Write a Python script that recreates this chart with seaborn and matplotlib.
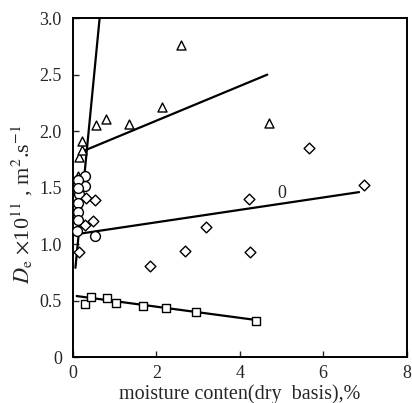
import numpy as np
import pandas as pd
import matplotlib
matplotlib.use("Agg")
import matplotlib.pyplot as plt
import seaborn as sns

# Data
tri_x = [0.12, 0.14, 0.22, 0.22, 0.55, 0.80, 1.34, 2.13, 2.58, 4.70]
tri_y = [1.60, 1.77, 1.83, 1.91, 2.05, 2.11, 2.06, 2.21, 2.76, 2.07]

circ_x = [0.30, 0.28, 0.13, 0.14, 0.12, 0.11, 0.11, 0.09, 0.52, 0.12]
circ_y = [1.60, 1.51, 1.57, 1.44, 1.36, 1.28, 1.21, 1.12, 1.07, 1.50]

dia_x = [0.15, 0.29, 0.31, 0.48, 0.52, 1.85, 2.68, 3.19, 4.22, 4.24, 5.67, 6.97]
dia_y = [0.93, 1.17, 1.41, 1.20, 1.39, 0.81, 0.94, 1.15, 1.40, 0.93, 1.85, 1.52]

sq_x = [0.30, 0.43, 0.82, 1.04, 1.69, 2.23, 2.96, 4.38]
sq_y = [0.47, 0.53, 0.52, 0.48, 0.45, 0.43, 0.40, 0.32]

# fitted lines (end points)
steep_x, steep_y = [0.06, 0.64], [0.79, 3.0]
tri_fit_x, tri_fit_y = [0.29, 4.66], [1.83, 2.50]
dia_fit_x, dia_fit_y = [0.13, 6.86], [1.09, 1.46]
sq_fit_x, sq_fit_y = [0.09, 4.35], [0.54, 0.33]

sns.set_style("ticks")
plt.rcParams['font.family'] = ['Liberation Serif', 'DejaVu Serif']
plt.rcParams['mathtext.fontset'] = 'stix'

fig = plt.figure(figsize=(4.12, 4.03), dpi=100)
ax = fig.add_axes([0.177, 0.114, 0.81, 0.841])

for lx, ly in [(steep_x, steep_y), (tri_fit_x, tri_fit_y),
               (dia_fit_x, dia_fit_y), (sq_fit_x, sq_fit_y)]:
    sns.lineplot(x=lx, y=ly, ax=ax, color='black', lw=1.6, sort=False)

common = dict(ax=ax, facecolor='white', edgecolor='black', linewidth=1.0, zorder=3)
sns.scatterplot(x=tri_x, y=tri_y, marker='^', s=42, **common)
sns.scatterplot(x=circ_x, y=circ_y, marker='o', s=50, **common)
sns.scatterplot(x=dia_x, y=dia_y, marker='D', s=30, **common)
sns.scatterplot(x=sq_x, y=sq_y, marker='s', s=32, **common)

ax.text(5.0, 1.45, '0', fontsize=13, ha='center', va='center')

ax.set_xlim(0, 8)
ax.set_ylim(0, 3.0)
ax.set_xticks([0, 2, 4, 6, 8])
ax.set_xticklabels(['0', '2', '4', '6', '8'])
ax.set_yticks([0, 0.5, 1.0, 1.5, 2.0, 2.5, 3.0])
ax.set_yticklabels(['0', '0.5', '1.0', '1.5', '2.0', '2.5', '3.0'])
ax.tick_params(direction='in', length=4, width=1, labelsize=13)
ax.tick_params(axis='y', pad=8)
ax.tick_params(axis='x', pad=6)

for sp in ax.spines.values():
    sp.set_visible(True)
    sp.set_linewidth(1.4)
    sp.set_color('black')

ax.set_xlabel('moisture conten(dry  basis),%', fontsize=14.5, labelpad=1)
ax.set_ylabel(r'$D_{\rm e}$ $\times$10$^{11}$ , m$^{2}$.s$^{-1}$', fontsize=16)
ax.yaxis.set_label_coords(-0.115, 0.45)

fig.savefig('out.png', dpi=100)
